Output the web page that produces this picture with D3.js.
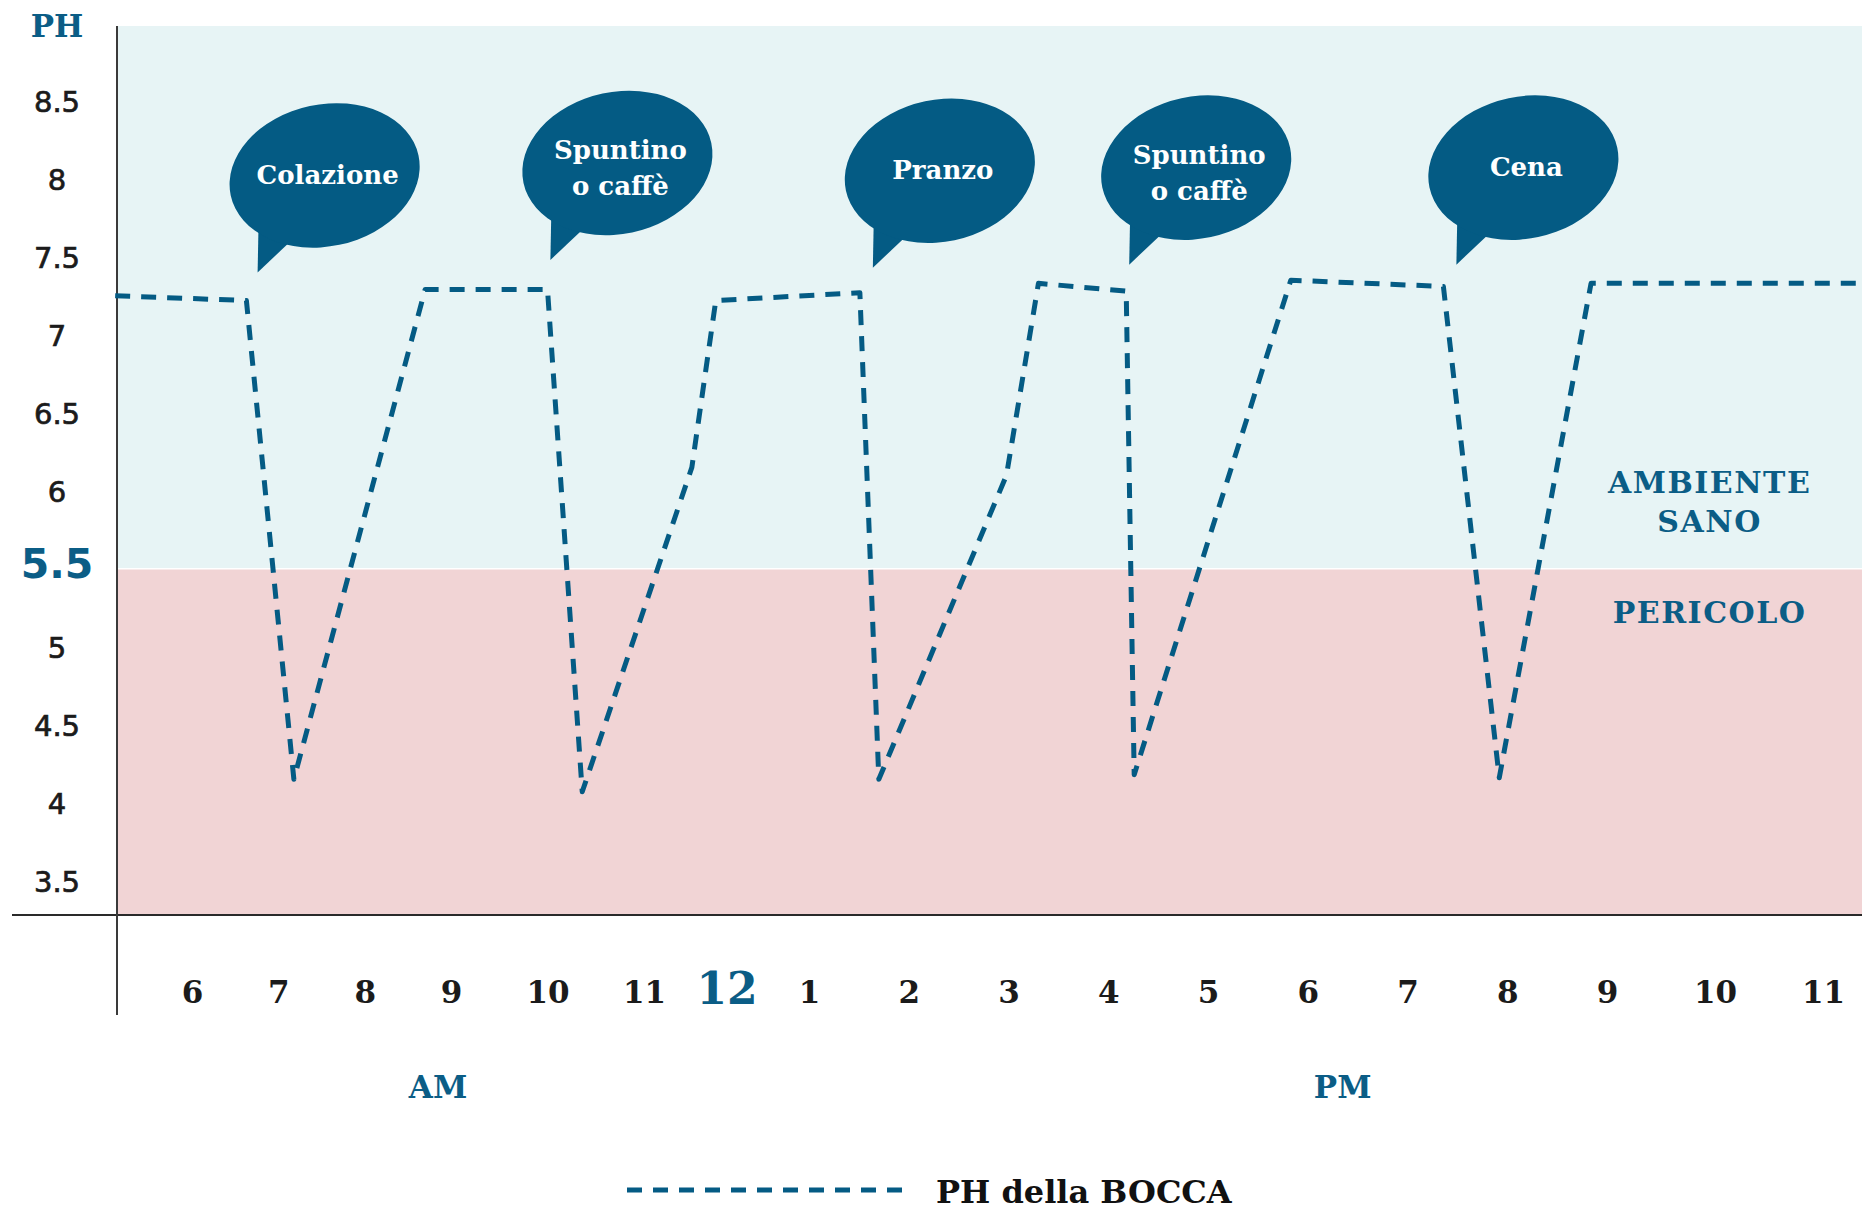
<!DOCTYPE html>
<html><head><meta charset="utf-8">
<script src="https://cdn.jsdelivr.net/npm/d3@7"></script>
<style>body{margin:0;background:#fff;} svg{display:block;}</style>
</head><body>
<svg id="chart" width="1862" height="1213"></svg>
<script>
// ---------- data ----------
const hourTicks  = [6,7,8,9,10,11,12,13,14,15,16,17,18,19,20,21,22,23];
const hourLabels = ["6","7","8","9","10","11","12","1","2","3","4","5","6","7","8","9","10","11"];
const phTicks    = [3.5,4,4.5,5,5.5,6,6.5,7,7.5,8,8.5];
const lineHours  = [5.11, 6.63, 7.18, 8.70, 10.0, 10.36, 11.58, 11.87, 13.51, 13.70, 14.98, 15.30, 16.18, 16.26, 17.83, 19.36, 19.92, 20.84, 23.36];
const linePH     = [7.25, 7.22, 4.15, 7.29, 7.29, 4.07, 6.15, 7.22, 7.27, 4.15, 6.10, 7.33, 7.28, 4.18, 7.35, 7.31, 4.16, 7.33, 7.33];
const mealLabels = ["Colazione", "Spuntino\no caffè", "Pranzo", "Spuntino\no caffè", "Cena"];
const mealHours  = [6.76, 10.03, 13.64, 16.21, 19.49];
const mealPH     = [7.40, 7.48, 7.43, 7.45, 7.45];
const threshold  = 5.5;
const zoneLabels = ["AMBIENTE\nSANO", "PERICOLO"];
const zonePH     = [5.93, 5.22];
const zoneHour   = 21.95;
const periodLabels = ["AM", "PM"];
const periodHours  = [8.85, 18.35];
const legendLabel  = "PH della BOCCA";
const yTitle       = "PH";

// ---------- layout ----------
const W = 1862, H = 1213;
const plotLeft = 117, plotRight = 1862, plotTop = 26, plotBottom = 915;
const BLUE = "#0b5d86", BUBBLE = "#045b84", INK = "#1b1b1b";
const SLAB = "'DejaVu Serif', serif";
const SANS = "'DejaVu Sans', sans-serif";

const svg = d3.select("#chart");
svg.append("rect").attr("width", W).attr("height", H).attr("fill", "#fff");

// piecewise x scale (hour labels are unevenly spaced in the original)
const x = d3.scaleLinear()
  .domain([6, 9, 11, 13, 21, 23])
  .range([192, 451, 644, 809, 1607, 1823]);
const y = d3.scaleLinear().domain([3.28, 8.98]).range([plotBottom, plotTop]);

// zones
svg.append("rect").attr("x", plotLeft).attr("y", y(8.98)).attr("width", plotRight - plotLeft)
  .attr("height", y(threshold) - y(8.98)).attr("fill", "#e7f4f5");
svg.append("rect").attr("x", plotLeft).attr("y", y(threshold)).attr("width", plotRight - plotLeft)
  .attr("height", y(3.28) - y(threshold)).attr("fill", "#f1d4d5");
svg.append("line").attr("x1", plotLeft).attr("x2", plotRight).attr("y1", y(threshold)).attr("y2", y(threshold))
  .attr("stroke", "#fff").attr("stroke-width", 1.5);

// axes lines
svg.append("line").attr("x1", 12).attr("x2", W).attr("y1", plotBottom).attr("y2", plotBottom)
  .attr("stroke", "#2a2a2a").attr("stroke-width", 2);
svg.append("line").attr("x1", plotLeft).attr("x2", plotLeft).attr("y1", plotTop).attr("y2", 1015)
  .attr("stroke", "#3a3a3a").attr("stroke-width", 2);

// y axis labels
const yAxis = d3.axisLeft(y).tickValues(phTicks).tickSize(0).tickPadding(0)
  .tickFormat(d => String(d));
const gy = svg.append("g").attr("transform", `translate(${plotLeft},0)`).call(yAxis);
gy.select(".domain").remove();
gy.selectAll(".tick text")
  .attr("x", -60).attr("dy", d => d === threshold ? "0.22em" : "0.36em")
  .attr("text-anchor", "middle")
  .style("font-family", SANS)
  .style("font-size", d => d === threshold ? "41px" : "29px")
  .style("font-weight", d => d === threshold ? "bold" : "normal")
  .attr("fill", d => d === threshold ? BLUE : INK)
  .attr("stroke", d => d === threshold ? "none" : INK)
  .attr("stroke-width", 0.7);

svg.append("text").attr("x", 57).attr("y", 37).attr("text-anchor", "middle")
  .style("font-family", SLAB).style("font-weight", "bold").style("font-size", "31px")
  .attr("fill", BLUE).text(yTitle);

// x axis labels
const xAxis = d3.axisBottom(x).tickValues(hourTicks).tickSize(0).tickPadding(0)
  .tickFormat((d, i) => hourLabels[i]);
const gx = svg.append("g").attr("transform", `translate(0,${plotBottom})`).call(xAxis);
gx.select(".domain").remove();
gx.selectAll(".tick text")
  .attr("y", d => d === 12 ? 73 : 77).attr("dy", "0.36em")
  .style("font-family", SLAB)
  .style("font-weight", "bold")
  .style("font-size", d => d === 12 ? "44px" : "31px")
  .attr("fill", d => d === 12 ? BLUE : INK);

// AM / PM
svg.selectAll(".period").data(periodLabels).join("text")
  .attr("class", "period")
  .attr("x", (d, i) => x(periodHours[i])).attr("y", 1087).attr("dy", "0.36em")
  .attr("text-anchor", "middle")
  .style("font-family", SLAB).style("font-weight", "bold").style("font-size", "31px")
  .attr("fill", BLUE).text(d => d);

// zone labels
zoneLabels.forEach((lab, i) => {
  const lines = lab.split("\n");
  const t = svg.append("text").attr("text-anchor", "middle")
    .style("font-family", SLAB).style("font-weight", "bold").style("font-size", "30px")
    .style("letter-spacing", "1.5px").attr("fill", BLUE);
  lines.forEach((ln, j) => {
    t.append("tspan").attr("x", x(zoneHour))
      .attr("y", y(zonePH[i]) + (j - (lines.length - 1) / 2) * 39)
      .attr("dy", "0.36em").text(ln);
  });
});

// pH line
const line = d3.line().x(d => x(d[0])).y(d => y(d[1]));
svg.append("path")
  .datum(lineHours.map((h, i) => [h, linePH[i]]))
  .attr("d", line)
  .attr("fill", "none").attr("stroke", BUBBLE).attr("stroke-width", 5)
  .attr("stroke-dasharray", "15 11").attr("stroke-linejoin", "round");

// speech bubbles
mealLabels.forEach((lab, i) => {
  const tx = x(mealHours[i]), ty = y(mealPH[i]);
  const g = svg.append("g").attr("transform", `translate(${tx + 67},${ty - 97})`);
  g.append("polygon").attr("points", "-67,97 -66,45 -30,62").attr("fill", BUBBLE);
  g.append("ellipse").attr("rx", 96).attr("ry", 71).attr("transform", "rotate(-12)").attr("fill", BUBBLE);
  const lines = lab.split("\n");
  const t = g.append("text").attr("text-anchor", "middle")
    .style("font-family", SLAB).style("font-weight", "bold").style("font-size", "26px")
    .attr("fill", "#fff");
  const shift = lines.length > 1 ? 5 : -1;
  lines.forEach((ln, j) => {
    t.append("tspan").attr("x", 3).attr("y", (j - (lines.length - 1) / 2) * 36 + shift)
      .attr("dy", "0.36em").text(ln);
  });
});

// legend
svg.append("line").attr("x1", 627).attr("x2", 912).attr("y1", 1190).attr("y2", 1190)
  .attr("stroke", BUBBLE).attr("stroke-width", 5).attr("stroke-dasharray", "15 11");
svg.append("text").attr("x", 936).attr("y", 1191).attr("dy", "0.36em")
  .style("font-family", SLAB).style("font-weight", "bold").style("font-size", "32px")
  .attr("fill", "#111").text(legendLabel);
</script>
</body></html>
